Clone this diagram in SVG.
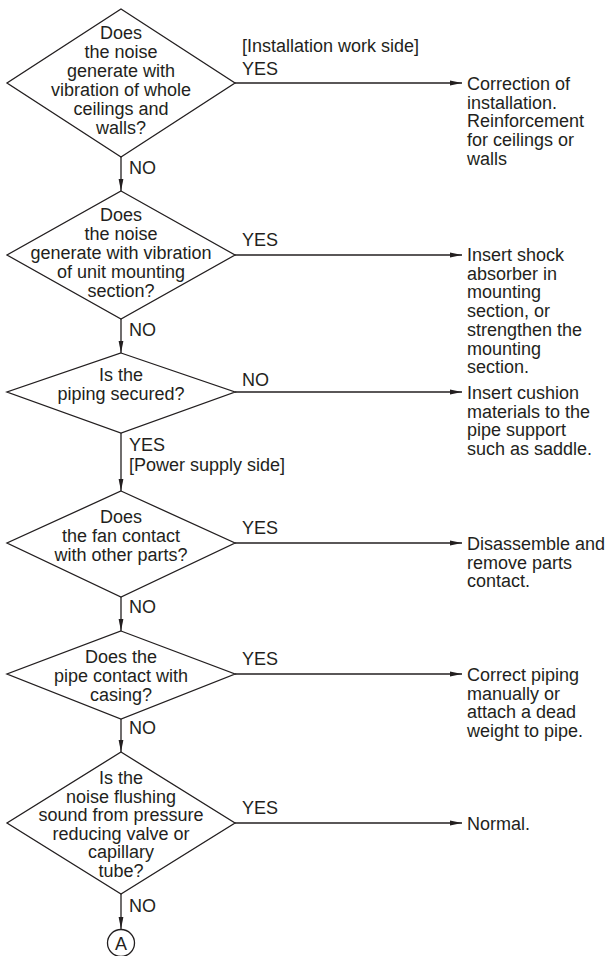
<svg xmlns="http://www.w3.org/2000/svg" width="612" height="956" viewBox="0 0 612 956">
  <style>
    .shape { fill: #ffffff; stroke: #231f20; stroke-width: 1.3; }
    .wire { fill: none; stroke: #231f20; stroke-width: 1.3; }
    text { font-family: "Liberation Sans", Arial, Helvetica, sans-serif; font-size: 18px; fill: #231f20; }
    .c { text-anchor: middle; }
  </style>
  <defs>
    <marker id="arrow" viewBox="0 0 12 6" refX="12" refY="3" markerWidth="12" markerHeight="6" markerUnits="userSpaceOnUse" orient="auto">
      <path d="M0,0.6 L12,3 L0,5.4 Z" fill="#231f20"/>
    </marker>
  </defs>
  <rect width="612" height="956" fill="#ffffff"/>

  <!-- connectors -->
  <g id="connectors">
    <line class="wire" x1="235" y1="83" x2="462" y2="83" marker-end="url(#arrow)"/>
    <line class="wire" x1="121" y1="157" x2="121" y2="191" marker-end="url(#arrow)"/>
    <line class="wire" x1="235" y1="255" x2="462" y2="255" marker-end="url(#arrow)"/>
    <line class="wire" x1="121" y1="319" x2="121" y2="353" marker-end="url(#arrow)"/>
    <line class="wire" x1="235" y1="392" x2="462" y2="392" marker-end="url(#arrow)"/>
    <line class="wire" x1="121" y1="433" x2="121" y2="491" marker-end="url(#arrow)"/>
    <line class="wire" x1="235" y1="543" x2="462" y2="543" marker-end="url(#arrow)"/>
    <line class="wire" x1="121" y1="597" x2="121" y2="631" marker-end="url(#arrow)"/>
    <line class="wire" x1="235" y1="674" x2="462" y2="674" marker-end="url(#arrow)"/>
    <line class="wire" x1="121" y1="719" x2="121" y2="752" marker-end="url(#arrow)"/>
    <line class="wire" x1="235" y1="823" x2="462" y2="823" marker-end="url(#arrow)"/>
    <line class="wire" x1="121" y1="894" x2="121" y2="929" marker-end="url(#arrow)"/>
  </g>

  <!-- branch labels -->
  <g id="labels">
    <text x="242" y="52">[Installation work side]</text>
    <text x="242" y="75">YES</text>
    <text x="129" y="174">NO</text>
    <text x="242" y="246">YES</text>
    <text x="129" y="336">NO</text>
    <text x="242" y="386">NO</text>
    <text x="129" y="451">YES</text>
    <text x="129" y="471">[Power supply side]</text>
    <text x="242" y="534">YES</text>
    <text x="129" y="613">NO</text>
    <text x="242" y="665">YES</text>
    <text x="129" y="734">NO</text>
    <text x="242" y="814">YES</text>
    <text x="129" y="912">NO</text>
  </g>

  <!-- decisions -->
  <g id="q1">
    <polygon class="shape" points="121,9 235,83 121,157 7,83"/>
    <text class="c" x="121" y="39">Does</text>
    <text class="c" x="121" y="58">the noise</text>
    <text class="c" x="121" y="77">generate with</text>
    <text class="c" x="121" y="96">vibration of whole</text>
    <text class="c" x="121" y="115">ceilings and</text>
    <text class="c" x="121" y="134">walls?</text>
  </g>
  <g id="q2">
    <polygon class="shape" points="121,191 235,255 121,319 7,255"/>
    <text class="c" x="121" y="221">Does</text>
    <text class="c" x="121" y="240">the noise</text>
    <text class="c" x="121" y="259">generate with vibration</text>
    <text class="c" x="121" y="278">of unit mounting</text>
    <text class="c" x="121" y="297">section?</text>
  </g>
  <g id="q3">
    <polygon class="shape" points="121,353 235,392 121,433 7,392"/>
    <text class="c" x="121" y="381">Is the</text>
    <text class="c" x="121" y="400">piping secured?</text>
  </g>
  <g id="q4">
    <polygon class="shape" points="121,491 235,543 121,597 7,543"/>
    <text class="c" x="121" y="523">Does</text>
    <text class="c" x="121" y="542">the fan contact</text>
    <text class="c" x="121" y="561">with other parts?</text>
  </g>
  <g id="q5">
    <polygon class="shape" points="121,631 235,674 121,719 7,674"/>
    <text class="c" x="121" y="663">Does the</text>
    <text class="c" x="121" y="682">pipe contact with</text>
    <text class="c" x="121" y="701">casing?</text>
  </g>
  <g id="q6">
    <polygon class="shape" points="121,752 235,823 121,894 7,823"/>
    <text class="c" x="121" y="784">Is the</text>
    <text class="c" x="121" y="802.5">noise flushing</text>
    <text class="c" x="121" y="821">sound from pressure</text>
    <text class="c" x="121" y="839.5">reducing valve or</text>
    <text class="c" x="121" y="858">capillary</text>
    <text class="c" x="121" y="876.5">tube?</text>
  </g>

  <!-- connector to next page -->
  <g id="connA">
    <circle class="shape" cx="121" cy="943" r="13.5"/>
    <text class="c" x="121" y="949.5">A</text>
  </g>

  <!-- remedies -->
  <g id="r1">
    <text x="467" y="90">Correction of</text>
    <text x="467" y="108.7">installation.</text>
    <text x="467" y="127.4">Reinforcement</text>
    <text x="467" y="146.1">for ceilings or</text>
    <text x="467" y="164.8">walls</text>
  </g>
  <g id="r2">
    <text x="467" y="261">Insert shock</text>
    <text x="467" y="279.7">absorber in</text>
    <text x="467" y="298.4">mounting</text>
    <text x="467" y="317.1">section, or</text>
    <text x="467" y="335.8">strengthen the</text>
    <text x="467" y="354.5">mounting</text>
    <text x="467" y="373.2">section.</text>
  </g>
  <g id="r3">
    <text x="467" y="399">Insert cushion</text>
    <text x="467" y="417.7">materials to the</text>
    <text x="467" y="436.4">pipe support</text>
    <text x="467" y="455.1">such as saddle.</text>
  </g>
  <g id="r4">
    <text x="467" y="550">Disassemble and</text>
    <text x="467" y="568.7">remove parts</text>
    <text x="467" y="587.4">contact.</text>
  </g>
  <g id="r5">
    <text x="467" y="681">Correct piping</text>
    <text x="467" y="699.7">manually or</text>
    <text x="467" y="718.4">attach a dead</text>
    <text x="467" y="737.1">weight to pipe.</text>
  </g>
  <g id="r6">
    <text x="467" y="830">Normal.</text>
  </g>
</svg>
